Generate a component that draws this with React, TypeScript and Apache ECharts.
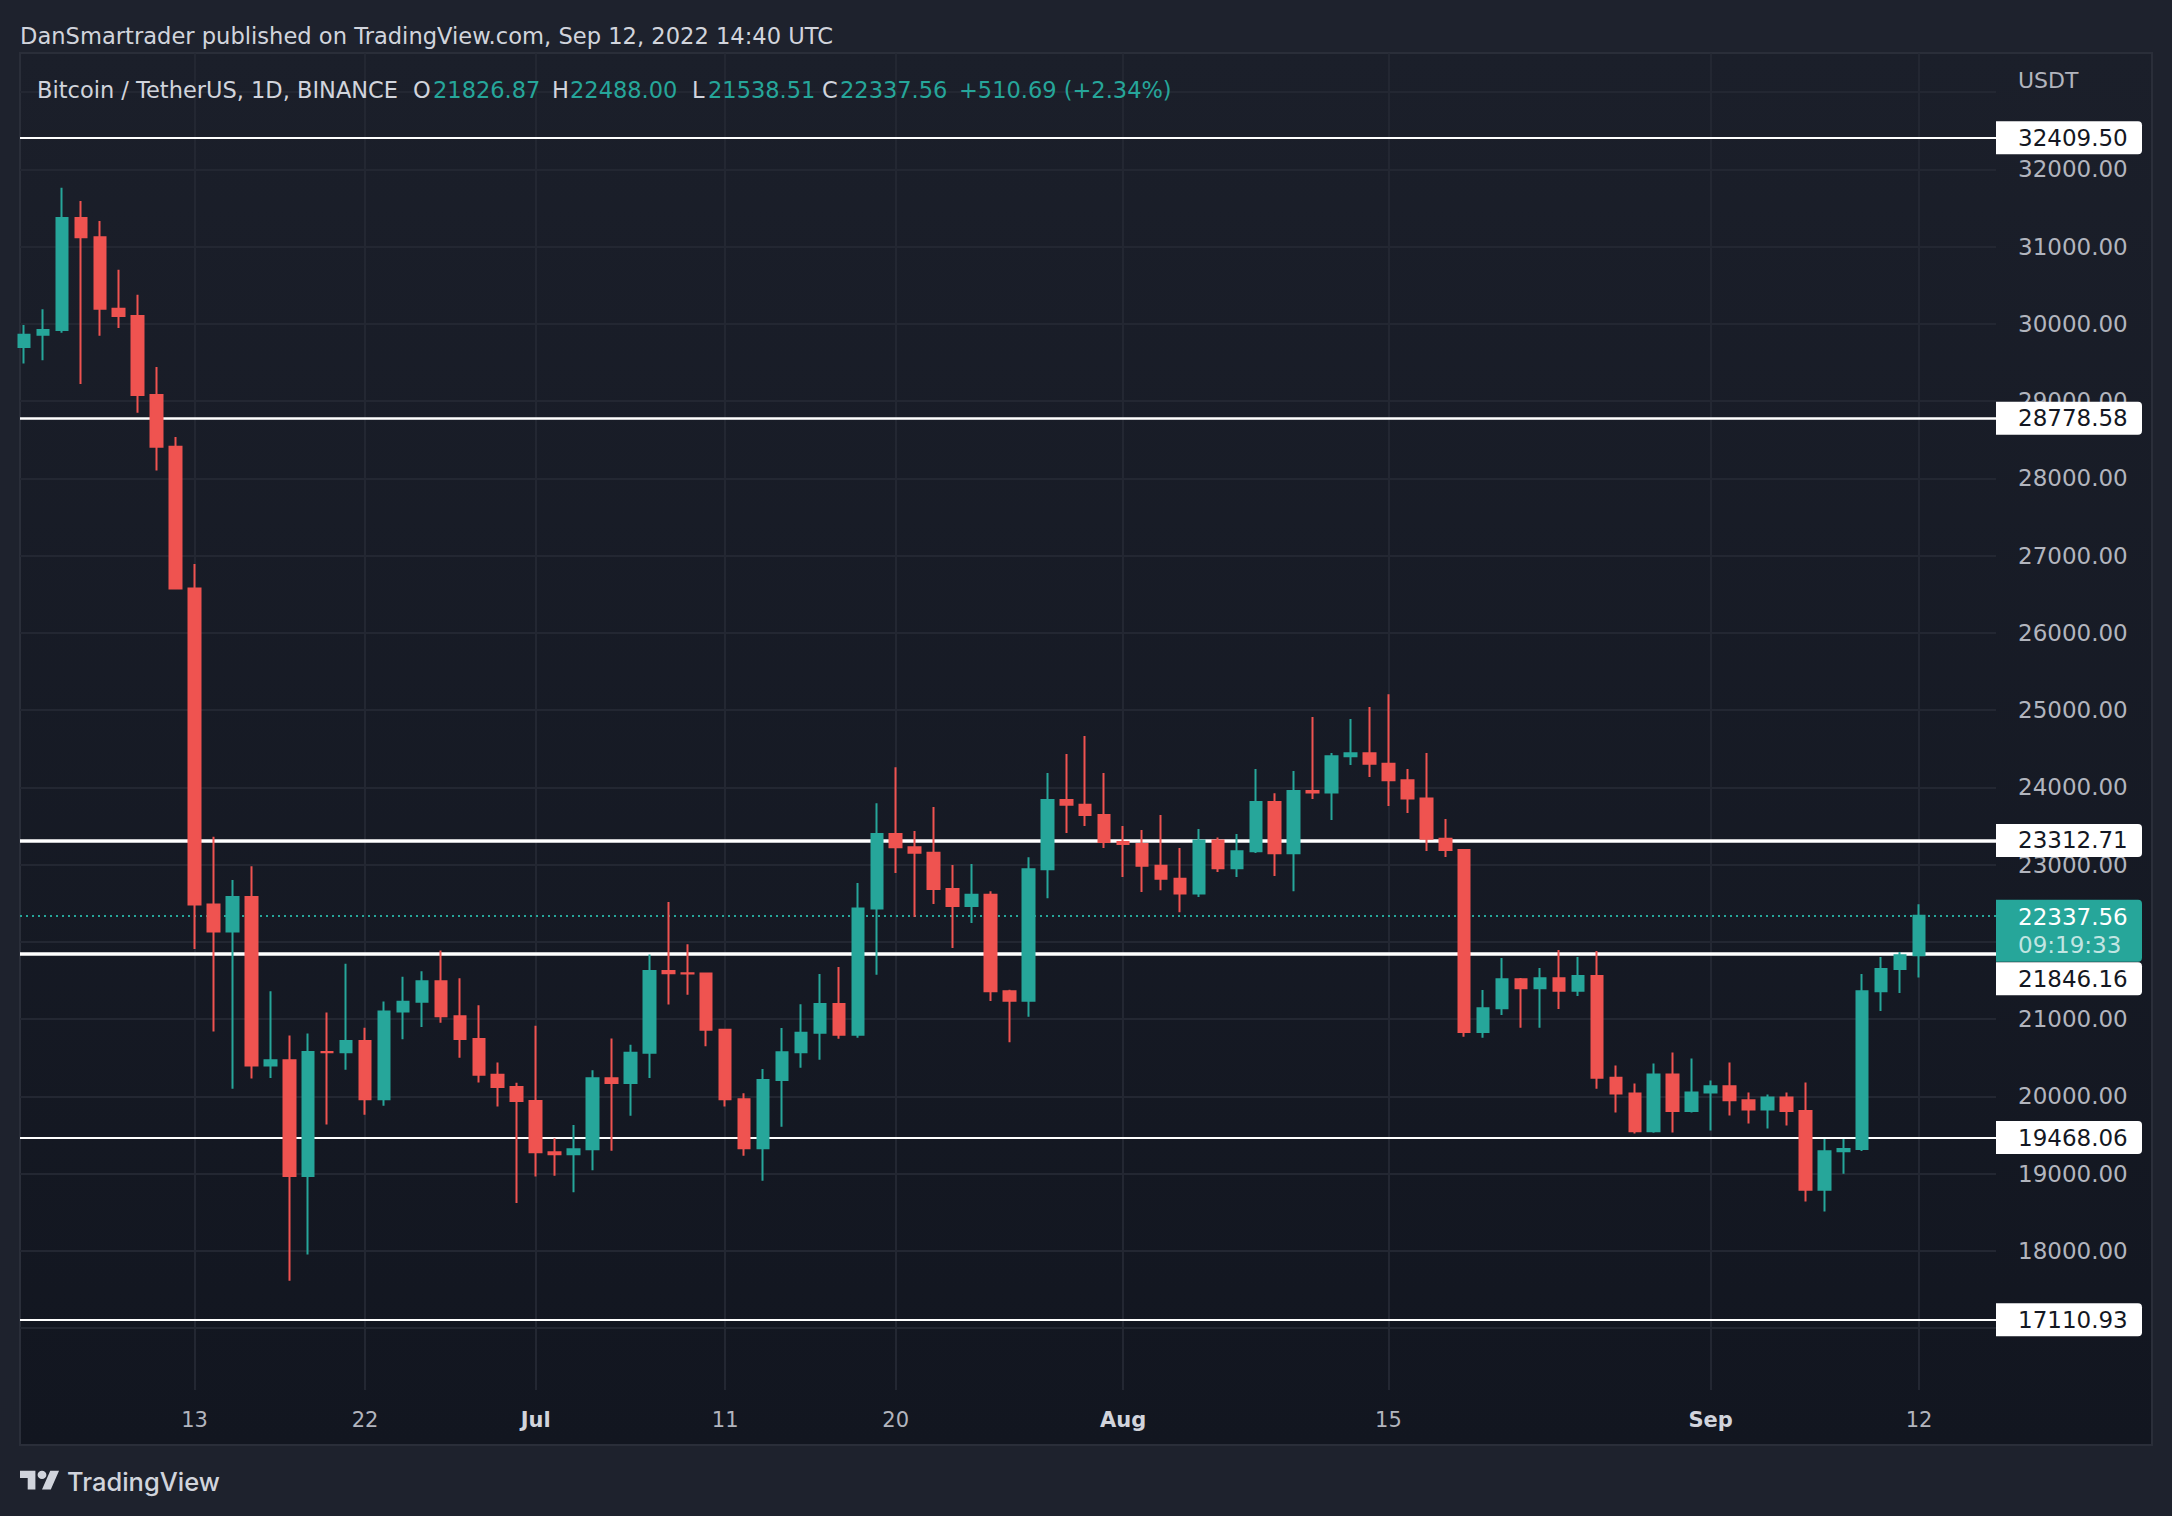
import React, { useEffect, useRef } from 'react';
import * as echarts from 'echarts';

// Daily BTC/USDT candles, Jun 4 (index 0) .. Sep 12, 2022 (index 100)
const opens = [
  29700, 29860, 29920, 31370, 31120, 30195, 30100, 29080, 28410, 26574,
  22485, 22136, 22583, 20401, 20468, 18970, 20574, 20573, 20719, 19965,
  21100, 21226, 21490, 21038, 20742, 20281, 20123, 19942, 19279, 19252,
  19315, 20236, 20175, 20564, 21624, 21594, 21591, 20862, 19963, 19328,
  20212, 20571, 20825, 21198, 20799, 22432, 23397, 23224, 23154, 22684,
  22465, 22609, 21361, 21240, 22942, 23836, 23774, 23644, 23293, 23268,
  22987, 22819, 22626, 23312, 22954, 23175, 23810, 23149, 23954, 23934,
  24403, 24442, 24305, 24094, 23855, 23336, 23191, 20834, 21140, 21516,
  21400, 21529, 21368, 21559, 20241, 20037, 19550, 20285, 19811, 20050,
  20131, 19951, 19832, 19987, 19812, 18791, 19290, 19320, 21361, 21648,
  21826.87,
];
const closes = [
  29860, 29920, 31370, 31120, 30195, 30100, 29080, 28410, 26574, 22485,
  22136, 22583, 20401, 20468, 18970, 20574, 20573, 20719, 19965, 21100,
  21226, 21490, 21038, 20742, 20281, 20123, 19942, 19279, 19252, 19315,
  20236, 20175, 20564, 21624, 21594, 21591, 20862, 19963, 19328, 20212,
  20571, 20825, 21198, 20799, 22432, 23397, 23224, 23154, 22684, 22465,
  22609, 21361, 21240, 22942, 23836, 23774, 23644, 23293, 23268, 22987,
  22819, 22626, 23312, 22954, 23175, 23810, 23149, 23954, 23934, 24403,
  24442, 24305, 24094, 23855, 23336, 23191, 20834, 21140, 21516, 21400,
  21529, 21368, 21559, 20241, 20037, 19550, 20285, 19811, 20050, 20131,
  19951, 19832, 19987, 19812, 18791, 19290, 19320, 21361, 21648, 21826.87,
  22337.56,
];
const highs = [
  29985, 30190, 31760, 31590, 31330, 30700, 30375, 29440, 28535, 26891,
  23360, 22800, 22980, 21360, 20790, 20815, 21085, 21717, 20890, 21228,
  21550, 21620, 21890, 21530, 21180, 20440, 20176, 20915, 19460, 19630,
  20340, 20750, 20670, 21836, 22518, 21970, 21600, 20870, 20041, 20354,
  20885, 21194, 21585, 21675, 22763, 23794, 24262, 23436, 23745, 22995,
  23010, 22657, 21380, 23095, 24186, 24432, 24666, 24186, 23500, 23449,
  23642, 23215, 23462, 23350, 23397, 24238, 23924, 24212, 24910, 24444,
  24884, 25039, 25207, 24238, 24444, 23591, 23203, 21379, 21792, 21534,
  21663, 21895, 21805, 21882, 20400, 20168, 20427, 20570, 20492, 20207,
  20440, 20052, 20026, 20052, 20180, 19450, 19450, 21585, 21805, 21870,
  22488,
];
const lows = [
  29485, 29530, 29885, 29220, 29845, 29945, 28850, 28100, 26560, 21910,
  20840, 20100, 20232, 20240, 17615, 17955, 19637, 20346, 19763, 19878,
  20740, 20900, 20955, 20500, 20180, 19870, 18622, 18963, 18975, 18760,
  19045, 19296, 19750, 20240, 21190, 21316, 20650, 19870, 19233, 18909,
  19607, 20372, 20475, 20748, 20760, 21575, 22892, 22322, 22490, 21920,
  22245, 21236, 20700, 21030, 22566, 23410, 23500, 23215, 22840, 22645,
  22669, 22384, 22580, 22905, 22840, 23150, 22852, 22657, 23850, 23578,
  24290, 24135, 23760, 23669, 23177, 23100, 20773, 20760, 21055, 20890,
  20890, 21133, 21300, 20100, 19793, 19521, 19530, 19534, 19793, 19560,
  19754, 19650, 19586, 19625, 18640, 18511, 18998, 19293, 21107, 21340,
  21538.51,
];

// time-axis ticks (day index from Jun 4) and their labels
const tickDays = [9, 18, 27, 37, 46, 58, 72, 89, 100];
const tickLabels = ['13', '22', 'Jul', '11', '20', 'Aug', '15', 'Sep', '12'];
const monthLabels = ['Jul', 'Aug', 'Sep'];

// price-axis labels that the reference hides behind the level boxes
const hiddenPriceLabels = [17000, 22000];

// horizontal levels drawn by the author
const levelValues = [32409.5, 28778.58, 23312.71, 21846.16, 19468.06, 17110.93];
const lastPrice = 22337.56;
const countdown = '09:19:33';

// styles (not data)
const levelWidths = [2, 2.5, 3.5, 3.5, 2, 2];
const levelOffsets = [0, 0, 0, 25, 0, 0];

const UP = '#26a69a';
const DOWN = '#ef5350';
const GRIDC = '#232732';
const FONT = '"DejaVu Sans", sans-serif';
const TEXTC = '#d1d4dc';
const AXISC = '#b2b5be';

const logoPath =
  'M14 22H7V11H0V4h14v18zM28 22h-8l7.5-18h8L28 22zM16 8a4 4 0 1 0 8 0a4 4 0 1 0 -8 0z';

let registered = false;
function ensureShape() {
  if (registered) return;
  echarts.graphic.registerShape('tvlogo', echarts.graphic.extendPath(logoPath, {}) as any);
  registered = true;
}

export default function App() {
  const ref = useRef<HTMLDivElement>(null);

  useEffect(() => {
    if (!ref.current) return;
    ensureShape();
    const chart = echarts.init(ref.current, undefined, { renderer: 'svg' });

    const candleData = opens.map((o, i) => [i, o, closes[i], lows[i], highs[i]]);
    const n = opens.length - 1;
    const chg = closes[n] - closes[n - 1];
    const pct = (chg / closes[n - 1]) * 100;
    const sgn = chg >= 0 ? '+' : '';

    // y split line colours: hide the bottom (16000) and top extent lines
    const splitColors: string[] = [];
    for (let v = 16000; v <= 33000; v += 1000) splitColors.push(v === 16000 ? 'rgba(0,0,0,0)' : GRIDC);
    splitColors.push('rgba(0,0,0,0)');

    const levelMarks: any[] = levelValues.map((v, k) => ({
      yAxis: v,
      lineStyle: { color: '#ffffff', width: levelWidths[k], type: 'solid' },
      label: {
        show: true,
        position: 'end',
        distance: 0,
        offset: [0, levelOffsets[k]],
        formatter: () => '{v|' + v.toFixed(2) + '}',
        backgroundColor: '#ffffff',
        borderRadius: [0, 4, 4, 0],
        padding: [5, 0, 5, 22],
        rich: {
          v: { width: 124, color: '#131722', fontSize: 23, fontFamily: FONT, lineHeight: 23 },
        },
      },
    }));
    levelMarks.push({
      yAxis: lastPrice,
      lineStyle: { color: UP, width: 2, type: [2, 4] },
      label: {
        show: true,
        position: 'end',
        distance: 0,
        offset: [0, 15],
        formatter: () => '{p|' + lastPrice.toFixed(2) + '}\n{t|' + countdown + '}',
        backgroundColor: UP,
        borderRadius: [0, 4, 4, 0],
        padding: [3, 0, 3, 22],
        rich: {
          p: { width: 124, color: '#ffffff', fontSize: 23, fontFamily: FONT, lineHeight: 28 },
          t: { width: 124, color: 'rgba(255,255,255,0.72)', fontSize: 23, fontFamily: FONT, lineHeight: 28 },
        },
      },
    });

    const legendY = 90;
    const legendFont = { fontSize: 22.5, fontFamily: FONT };

    const txt = (x: number, y: number, text: string, fill: string, extra: any = {}) => ({
      type: 'text',
      x,
      y,
      z: 50,
      silent: true,
      style: { text, fill, ...legendFont, verticalAlign: 'middle', ...extra },
    });

    const option: any = {
      animation: false,
      backgroundColor: '#1e222d',
      grid: { left: 20, right: 176, top: 53.4, bottom: 110.5, show: false },
      xAxis: {
        type: 'value',
        min: -0.21,
        max: 104.06,
        axisLine: { show: false },
        axisTick: { show: false },
        splitLine: { show: false },
        axisLabel: {
          customValues: tickDays,
          margin: 4,
          hideOverlap: false,
          formatter: (v: number) => {
            const k = tickDays.indexOf(Math.round(v));
            if (k < 0) return '';
            const t = tickLabels[k];
            return monthLabels.indexOf(t) >= 0 ? '{m|' + t + '}' : '{d|' + t + '}';
          },
          rich: {
            d: { color: AXISC, fontSize: 21, fontFamily: FONT },
            m: { color: TEXTC, fontSize: 21, fontFamily: FONT, fontWeight: 'bold' },
          },
        },
      },
      yAxis: {
        type: 'value',
        position: 'right',
        min: 16000,
        max: 33500,
        interval: 1000,
        axisLine: { show: false },
        axisTick: { show: false },
        splitLine: { show: true, lineStyle: { color: splitColors, width: 2 } },
        axisLabel: {
          margin: 22,
          color: AXISC,
          fontSize: 23,
          fontFamily: FONT,
          formatter: (v: number) =>
            v < 17000 || v > 32000 || hiddenPriceLabels.indexOf(v) >= 0 ? '' : v.toFixed(2),
        },
      },
      series: [
        {
          type: 'line',
          data: [],
          silent: true,
          markLine: {
            z: 1,
            silent: true,
            symbol: ['none', 'none'],
            label: { show: false },
            lineStyle: { color: GRIDC, width: 2, type: 'solid' },
            data: tickDays.map((d) => [{ coord: [d, 16200] }, { coord: [d, 33500] }]),
          },
        },
        {
          type: 'line',
          data: [],
          silent: true,
          markLine: {
            z: 1,
            silent: true,
            symbol: ['none', 'none'],
            data: levelMarks,
          },
        },
        {
          type: 'candlestick',
          z: 3,
          silent: true,
          clip: true,
          barWidth: 12,
          encode: { x: 0, y: [1, 2, 3, 4] },
          data: candleData,
          itemStyle: {
            color: UP,
            color0: DOWN,
            borderColor: UP,
            borderColor0: DOWN,
            borderWidth: 2,
          },
        },
      ],
      graphic: [
        {
          type: 'rect',
          z: -10,
          silent: true,
          shape: { x: 20, y: 53, width: 2132, height: 1392 },
          style: {
            fill: new echarts.graphic.LinearGradient(0, 0, 0, 1, [
              { offset: 0, color: '#1b1f2a' },
              { offset: 1, color: '#121620' },
            ]),
            stroke: '#2a2e39',
            lineWidth: 2,
          },
        },
        txt(20, 36, 'DanSmartrader published on TradingView.com, Sep 12, 2022 14:40 UTC', TEXTC, { fontSize: 22.6 }),
        txt(37, legendY, 'Bitcoin / TetherUS, 1D, BINANCE', TEXTC),
        txt(413, legendY, 'O', TEXTC),
        txt(433, legendY, opens[n].toFixed(2), UP),
        txt(552, legendY, 'H', TEXTC),
        txt(570, legendY, highs[n].toFixed(2), UP),
        txt(692, legendY, 'L', TEXTC),
        txt(708, legendY, lows[n].toFixed(2), UP),
        txt(822, legendY, 'C', TEXTC),
        txt(840, legendY, closes[n].toFixed(2), UP),
        txt(959, legendY, sgn + chg.toFixed(2) + ' (' + sgn + pct.toFixed(2) + '%)', UP),
        txt(2018, 80, 'USDT', AXISC, { fontSize: 22 }),
        {
          type: 'tvlogo',
          x: 20,
          y: 1466.5,
          z: 50,
          scaleX: 1.1,
          scaleY: 1.05,
          style: { fill: TEXTC },
        },
        txt(67, 1481, 'TradingView', TEXTC, { fontSize: 25.5, fontFamily: 'Inter', fontWeight: 500 }),
      ],
    };

    chart.setOption(option);
    return () => chart.dispose();
  }, []);

  return (
    <div
      ref={ref}
      style={{ position: 'fixed', left: 0, top: 0, width: 2172, height: 1516 }}
    />
  );
}
